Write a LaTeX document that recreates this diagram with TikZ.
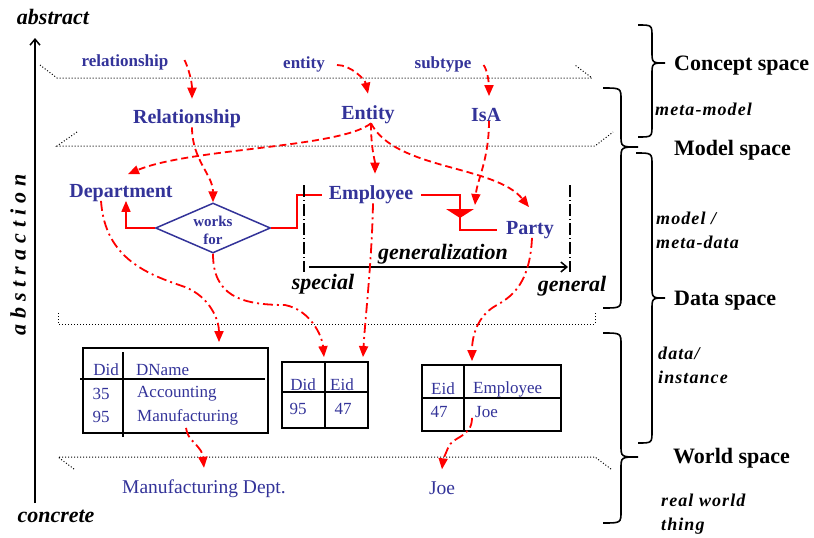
\documentclass[tikz,border=0pt]{standalone}
\usepackage{fontspec}
\setmainfont{Liberation Serif}
\usetikzlibrary{arrows.meta,shapes.geometric}
\definecolor{navy}{RGB}{51,51,153}

\begin{document}
\begin{tikzpicture}[x=1pt,y=-1pt,
  every node/.style={inner sep=2pt},
  concept/.style={text=navy, font=\bfseries\fontsize{20}{24}\selectfont, yshift=-3pt},
  keyword/.style={text=navy, font=\bfseries\fontsize{17}{20}\selectfont, yshift=-2pt},
  cell/.style={text=navy, font=\fontsize{17}{20}\selectfont, yshift=-2pt},
  thing/.style={text=navy, font=\fontsize{19.5}{22}\selectfont, yshift=-1pt},
  axislabel/.style={font=\bfseries\itshape\fontsize{22}{26}\selectfont},
  spacename/.style={font=\bfseries\fontsize{22}{26}\selectfont, anchor=west, yshift=-3pt},
  spacenote/.style={font=\bfseries\itshape\fontsize{18}{24}\selectfont\addfontfeatures{LetterSpace=6},
    anchor=west, align=left},
  layer/.style={line width=1pt, dash pattern=on 1pt off 2pt},
  brace/.style={line width=1.6pt},
  tip/.style={-{Triangle[length=11pt,width=9pt]}},
  metalink/.style={red, line width=1.8pt, dash pattern=on 7pt off 4pt, tip},
  instlink/.style={red, line width=1.8pt, dash pattern=on 10pt off 4pt on 2pt off 4pt, tip},
  erline/.style={red, line width=1.6pt},
  tablebox/.style={draw, line width=1.8pt, inner sep=0pt},
  rule/.style={line width=1.8pt},
  bracket/.style={line width=1.5pt, dash pattern=on 12pt off 3pt on 1pt off 3pt},
  axisarrow/.style={line width=1.5pt, -{Straight Barb[length=6pt,width=10pt]}},
]
\useasboundingbox (0,0) rectangle (814,538);

% ---------- abstraction axis ----------
\node[axislabel] (abstract) at (53,17) {abstract};
\node[axislabel] (concrete) at (56,516) {concrete};
\node[axislabel, rotate=90] (abstraction) at (18,255) {\addfontfeatures{LetterSpace=27}abstraction};
\coordinate (axisfoot) at (35,503);
\coordinate (axistop) at (35,38);
\draw[axisarrow] (axisfoot) -- (axistop);

% ---------- layer planes ----------
\draw[layer] (40,65) -- (57,78) -- (592,78) -- (575,65);
\draw[layer] (77,132) -- (57,146) -- (595,146) -- (613,132);
\draw[layer] (58,313) -- (58,324) -- (595,324) -- (595,313);
\draw[layer] (74,469) -- (58,457) -- (595,457) -- (611,469);

% ---------- braces and space names ----------
\draw[brace] (638,25) .. controls (652,25) .. (652,37) -- (652,51)
  .. controls (652,63) .. (665,63) .. controls (652,63) .. (652,75)
  -- (652,125) .. controls (652,137) .. (638,137);
\draw[brace] (603,88) .. controls (621,88) .. (621,100) -- (621,135)
  .. controls (621,147) .. (638,147) .. controls (621,147) .. (621,159)
  -- (621,296) .. controls (621,308) .. (603,308);
\draw[brace] (636,153) .. controls (652,153) .. (652,165) -- (652,286)
  .. controls (652,298) .. (665,298) .. controls (652,298) .. (652,310)
  -- (652,431) .. controls (652,443) .. (638,443);
\draw[brace] (603,333) .. controls (621,333) .. (621,345) -- (621,445)
  .. controls (621,457) .. (638,457) .. controls (621,457) .. (621,469)
  -- (621,511) .. controls (621,523) .. (603,523);

\node[spacename] (conceptspace) at (672,63) {Concept space};
\node[spacename] (modelspace) at (672,147) {Model space};
\node[spacename] (dataspace) at (672,298) {Data space};
\node[spacename] (worldspace) at (671,455) {World space};
\node[spacenote] (metamodel) at (653,109) {meta-model};
\node[spacenote] (metadata) at (654,230) {model /\\meta-data};
\node[spacenote] (instance) at (656,365) {data/\\instance};
\node[spacenote] (realthing) at (659,514) {real world\\thing};

% ---------- concept space ----------
\node[keyword] (relkey) at (125,60) {relationship};
\node[keyword] (entkey) at (304,62) {entity};
\node[keyword] (subkey) at (443,62) {subtype};

% ---------- meta-model ----------
\node[concept] (relnode) at (187,116) {Relationship};
\node[concept] (entnode) at (368,112) {Entity};
\node[concept] (isanode) at (486,112) {IsA};

% ---------- model ----------
\node[concept] (dept) at (121,190) {Department};
\node[concept] (emp) at (371,192) {Employee};
\node[concept] (party) at (530,227) {Party};
\node[draw=navy, line width=1.5pt, diamond, minimum width=115pt,
      minimum height=50pt, inner sep=0pt] (wf) at (213,228) {};
\node[text=navy, font=\bfseries\fontsize{15}{18}\selectfont, align=center]
      (wftext) at (213,230) {works\\for};

\draw[erline, tip] (wf.west) -| ([xshift=5pt,yshift=3pt]dept.south);
\draw[erline] (wf.east) -- ++(26,0) |- ([xshift=-5pt]emp.west);
\coordinate (isa) at (460,209);
\draw[erline] ([xshift=6pt]emp.east) -| (isa) |- ([xshift=-7pt]party.west);
\fill[red] (isa) ++(-14,0) -- ++(28,0) -- ++(-14,9) -- cycle;

% generalization scale
\draw[bracket] (304,185) -- (304,272);
\draw[bracket] (570,185) -- (570,272);
\draw[axisarrow] (309,267) -- (568,267);
\node[axislabel] (generalization) at (443,254) {generalization};
\node[axislabel] (special) at (323,284) {special};
\node[axislabel] (general) at (572,286) {general};

% ---------- data ----------
\node[tablebox, minimum width=185pt, minimum height=85pt] (tbl1) at (175.5,390.5) {};
\draw[rule] (80,379) -- (265,379);
\draw[rule] (123,352) -- (123,437);
\node[cell] (t1did) at (106,368) {Did};
\node[cell, anchor=west] (t1name) at (134,368) {DName};
\node[cell] (t1a) at (101,392) {35};
\node[cell, anchor=west] (t1b) at (135,392) {Accounting};
\node[cell] (t1c) at (101,415) {95};
\node[cell, anchor=west] (t1d) at (135,415) {Manufacturing};

\node[tablebox, minimum width=86pt, minimum height=66pt] (tbl2) at (325,395) {};
\draw[rule] (tbl2.north) -- (tbl2.south);
\draw[rule] (282,392) -- (368,392);
\node[cell] (t2did) at (303,383) {Did};
\node[cell] (t2eid) at (342,383) {Eid};
\node[cell] (t2a) at (298,407) {95};
\node[cell] (t2b) at (343,407) {47};

\node[tablebox, minimum width=139pt, minimum height=66pt] (tbl3) at (491.5,398) {};
\draw[rule] (464,365) -- (464,431);
\draw[rule] (422,398) -- (561,398);
\node[cell] (t3eid) at (443,387) {Eid};
\node[cell, anchor=west] (t3name) at (471,387) {Employee};
\node[cell] (t3a) at (439,410) {47};
\node[cell, anchor=west] (t3b) at (473,410) {Joe};

% ---------- world ----------
\node[thing] (mdept) at (204,488) {Manufacturing Dept.};
\node[thing] (joe) at (442,487) {Joe};

% ---------- instance-of links, upper layers ----------
\draw[metalink] ([xshift=14pt,yshift=2pt]relkey.east) .. controls +(4,8) and +(0,-17) .. ([xshift=5pt,yshift=9pt]relnode.north);
\draw[metalink] ([xshift=10pt,yshift=-1pt]entkey.east) .. controls +(14,0) and +(-3,-14) .. ([yshift=10pt]entnode.north);
\draw[metalink] ([xshift=10pt,yshift=-1pt]subkey.east) .. controls +(4,5) and +(0,-12) .. ([xshift=3pt,yshift=10pt]isanode.north);

\draw[metalink] ([xshift=3pt,yshift=3pt]entnode.south) .. controls (340,148) and (190,148) .. ([xshift=7pt,yshift=8pt]dept.north);
\draw[metalink] ([xshift=5pt,yshift=3pt]relnode.south) .. controls (192,160) and (213,175) .. (wf.north);
\draw[metalink] ([xshift=3pt,yshift=3pt]entnode.south) .. controls (371,150) and (375,160) .. ([xshift=4pt,yshift=10pt]emp.north);
\draw[metalink] ([xshift=3pt,yshift=3pt]entnode.south) .. controls (395,170) and (495,165) .. ([xshift=-1pt,yshift=12pt]party.north);
\draw[metalink] ([xshift=3pt,yshift=3pt]isanode.south) .. controls (489,160) and (477,180) .. ([xshift=15pt,yshift=4pt]isa);

% ---------- instance-of links, lower layers ----------
\draw[instlink] ([xshift=-20pt,yshift=3pt]dept.south) .. controls (105,260) and (150,275) .. (185,287)
  .. controls (210,297) and (219,320) .. ([xshift=43.5pt,yshift=5pt]tbl1.north);
\draw[instlink] (wf.south) .. controls (213,295) and (240,305) .. (285,305)
  .. controls (310,310) and (322,335) .. ([xshift=-1pt,yshift=4pt]tbl2.north);
\draw[instlink] ([xshift=2pt,yshift=3pt]emp.south) .. controls (372,260) and (365,320) .. ([xshift=38pt,yshift=4pt]tbl2.north);
\draw[instlink] ([xshift=2pt,yshift=3pt]party.south) .. controls (530,280) and (515,295) .. (497,305)
  .. controls (478,315) and (472,335) .. ([xshift=-19.5pt,yshift=3pt]tbl3.north);
\draw[instlink] ([xshift=10.5pt,yshift=6pt]tbl1.south) .. controls (188,440) and (195,442) .. (198,447)
  .. controls (203,452) and (203,458) .. ([yshift=10pt]mdept.north);
\draw[instlink] ([xshift=-19.5pt,yshift=14pt]tbl3.south) .. controls (472,438) and (452,436) .. (448,448)
  .. controls (445,455) and (443,460) .. ([yshift=10pt]joe.north);
\end{tikzpicture}
\end{document}
